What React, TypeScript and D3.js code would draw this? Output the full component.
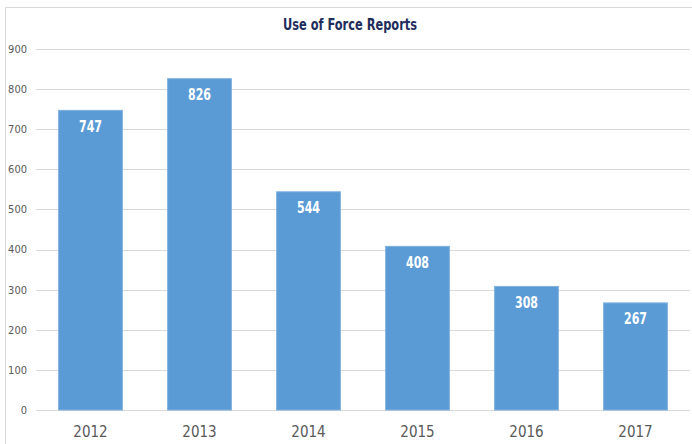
import React, { useEffect, useRef } from 'react';
import * as d3 from 'd3';

const years = ['2012', '2013', '2014', '2015', '2016', '2017'];
const reports = [747, 826, 544, 408, 308, 267];
const yTicks = [0, 100, 200, 300, 400, 500, 600, 700, 800, 900];

const App = () => {
  const ref = useRef<SVGSVGElement | null>(null);

  useEffect(() => {
    const width = 692;
    const height = 444;
    const svg = d3.select(ref.current);
    svg.selectAll('*').remove();

    const font = "'DejaVu Sans Condensed', 'Liberation Sans Narrow', sans-serif";

    // outer chart frame (only left and top edges fall inside the picture)
    svg.append('rect')
      .attr('x', 5.5)
      .attr('y', 7.5)
      .attr('width', 700)
      .attr('height', 460)
      .attr('fill', '#fff')
      .attr('stroke', '#d9d9d9');

    const x = d3.scaleBand()
      .domain(years)
      .range([36, 690])
      .paddingInner(0.415)
      .paddingOuter(0.2075);

    const y = d3.scaleLinear()
      .domain([0, 900])
      .range([410, 49]);

    // gridlines
    svg.append('g')
      .selectAll('line')
      .data(yTicks)
      .enter()
      .append('line')
      .attr('x1', 36)
      .attr('x2', 690)
      .attr('y1', d => Math.round(y(d)) + 0.5)
      .attr('y2', d => Math.round(y(d)) + 0.5)
      .attr('stroke', '#d9d9d9')
      .attr('stroke-width', 1);

    // y labels
    svg.append('g')
      .selectAll('text')
      .data(yTicks)
      .enter()
      .append('text')
      .attr('x', 27)
      .attr('y', d => y(d))
      .attr('dy', '0.35em')
      .attr('text-anchor', 'end')
      .style('font-family', font)
      .style('font-size', '11px')
      .style('fill', '#595959')
      .text(d => d);

    // bars
    svg.append('g')
      .selectAll('rect')
      .data(reports)
      .enter()
      .append('rect')
      .attr('x', (d, i) => x(years[i]))
      .attr('y', d => y(d))
      .attr('width', x.bandwidth())
      .attr('height', d => y(0) - y(d))
      .attr('fill', '#5b9bd5')
      .attr('stroke', '#7fb0de')
      .attr('stroke-width', 1);

    // value labels (tall, narrow)
    svg.append('g')
      .selectAll('text')
      .data(reports)
      .enter()
      .append('text')
      .attr('x', (d, i) => x(years[i]) + x.bandwidth() / 2)
      .attr('y', d => y(d) + 16)
      .attr('dy', '0.35em')
      .attr('text-anchor', 'middle')
      .attr('textLength', 23)
      .attr('lengthAdjust', 'spacingAndGlyphs')
      .style('font-family', font)
      .style('font-size', '15px')
      .style('font-weight', 'bold')
      .style('fill', '#fff')
      .text(d => d);

    // x labels
    svg.append('g')
      .selectAll('text')
      .data(years)
      .enter()
      .append('text')
      .attr('x', d => x(d) + x.bandwidth() / 2)
      .attr('y', 432)
      .attr('dy', '0.35em')
      .attr('text-anchor', 'middle')
      .style('font-family', font)
      .style('font-size', '15px')
      .style('fill', '#595959')
      .text(d => d);

    // title
    svg.append('text')
      .attr('x', 350)
      .attr('y', 25)
      .attr('dy', '0.35em')
      .attr('text-anchor', 'middle')
      .attr('textLength', 134)
      .attr('lengthAdjust', 'spacingAndGlyphs')
      .style('font-family', font)
      .style('font-size', '15px')
      .style('font-weight', 'bold')
      .style('fill', '#1f2d5c')
      .text('Use of Force Reports');

    svg.attr('width', width).attr('height', height);
  }, []);

  return (
    <svg ref={ref} width={692} height={444}
      style={{ position: 'absolute', left: 0, top: 0, background: '#fff' }} />
  );
};

export default App;
